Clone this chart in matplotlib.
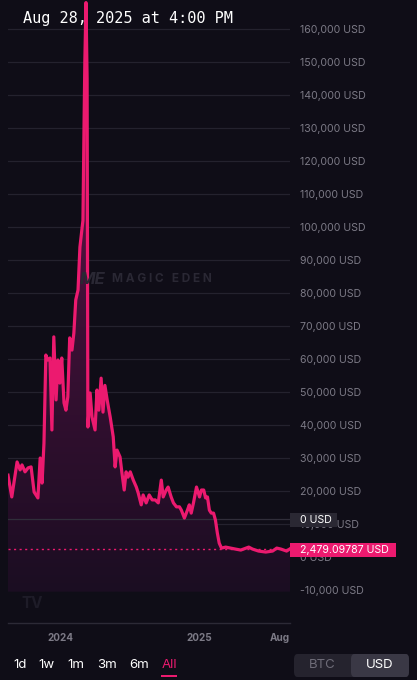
import numpy as np
import matplotlib
matplotlib.use("Agg")
import matplotlib.pyplot as plt
import matplotlib.dates as mdates
from matplotlib.patches import FancyBboxPatch, Rectangle
import pandas as pd

# ---------------- data ----------------
dates = [
    "2023-08-14", "2023-08-24", "2023-09-07", "2023-09-15", "2023-09-20", "2023-09-28",
    "2023-10-06", "2023-10-14", "2023-10-22", "2023-11-01", "2023-11-07", "2023-11-12",
    "2023-11-17", "2023-11-22", "2023-11-27", "2023-12-03", "2023-12-08", "2023-12-13",
    "2023-12-19", "2023-12-24", "2023-12-29", "2024-01-03", "2024-01-09", "2024-01-14",
    "2024-01-19", "2024-01-24", "2024-01-30", "2024-02-04", "2024-02-09", "2024-02-15",
    "2024-02-20", "2024-02-25", "2024-02-28", "2024-03-02", "2024-03-04", "2024-03-07",
    "2024-03-10", "2024-03-12", "2024-03-18", "2024-03-23", "2024-03-31", "2024-04-05",
    "2024-04-10", "2024-04-16", "2024-04-21", "2024-04-26", "2024-05-02", "2024-05-10",
    "2024-05-18", "2024-05-23", "2024-05-28", "2024-06-05", "2024-06-10", "2024-06-16",
    "2024-06-21", "2024-06-26", "2024-07-02", "2024-07-10", "2024-07-18", "2024-07-23",
    "2024-07-31", "2024-08-05", "2024-08-13", "2024-08-21", "2024-08-29", "2024-09-06",
    "2024-09-14", "2024-09-22", "2024-09-27", "2024-10-05", "2024-10-10", "2024-10-18",
    "2024-10-24", "2024-11-01", "2024-11-09", "2024-11-14", "2024-11-22", "2024-11-30",
    "2024-12-05", "2024-12-10", "2024-12-16", "2024-12-24", "2025-01-01", "2025-01-06",
    "2025-01-12", "2025-01-17", "2025-01-22", "2025-01-27", "2025-02-01", "2025-02-07",
    "2025-02-12", "2025-02-17", "2025-02-22", "2025-02-28", "2025-03-11", "2025-03-24",
    "2025-04-06", "2025-04-20", "2025-05-11", "2025-05-21", "2025-06-06", "2025-06-25",
    "2025-07-13", "2025-07-24", "2025-08-04", "2025-08-19", "2025-08-28",
]
prices = [
    24800, 18200, 28800, 26400, 27900, 25800,
    27000, 27300, 19700, 17900, 30000, 22400,
    34500, 61200, 59700, 60300, 38500, 66700,
    47600, 59700, 52700, 60300, 46700, 44500,
    48500, 66400, 62700, 67900, 77900, 80900,
    93900, 99000, 102000, 132000, 150000, 168000,
    145000, 39400, 49700, 42400, 38500, 50600,
    44500, 54200, 43900, 52000, 47600, 42400,
    36400, 27300, 32400, 30300, 25500, 20300,
    25800, 24200, 25800, 23300, 21200, 19400,
    15800, 18800, 16400, 18800, 17300, 17300,
    16400, 23300, 18200, 20300, 21200, 18200,
    16400, 15200, 15200, 14200, 11800, 14200,
    15800, 13300, 16400, 21200, 18200, 20300,
    20300, 17900, 18200, 14200, 13300, 13300,
    11200, 7300, 4200, 2700, 3000, 2700,
    2400, 2100, 3000, 2400, 1800, 1500,
    1800, 2700, 2400, 1800, 2479.09787,
]
last_price = 2479.09787
ytick_values = [160000, 150000, 140000, 130000, 120000, 110000, 100000, 90000,
                80000, 70000, 60000, 50000, 40000, 30000, 20000, 10000, 0, -10000]
xtick_dates = ["2024-01-01", "2025-01-01", "2025-08-01"]
xtick_labels = ["2024", "2025", "Aug"]
ranges = ["1d", "1w", "1m", "3m", "6m", "All"]
title = "Aug 28, 2025 at 4:00 PM"
crosshair_value = 11500

# ---------------- style ----------------
BG = "#0f0d17"
GRID = "#24222e"
PINK = "#ec1a6f"
LABEL = "#7c7a86"

x = mdates.date2num(pd.to_datetime(dates))
y = np.array(prices, dtype=float)

fig = plt.figure(figsize=(4.17, 6.80), dpi=100, facecolor=BG)
W, H = 417, 680
ax = fig.add_axes([8 / W, 1 - 623 / H, 282 / W, 623 / H], facecolor=BG)

x0 = mdates.date2num(pd.Timestamp("2023-08-14"))
x1 = mdates.date2num(pd.Timestamp("2025-08-28"))
ymin, ymax = -20000, 168788
ax.set_xlim(x0, x1)
ax.set_ylim(ymin, ymax)

# grid
for v in ytick_values:
    ax.axhline(v, color=GRID, lw=0.9, zorder=0)

# gradient fill under the line
fill_base = -10500
poly = ax.fill_between(x, y, fill_base, color="none", lw=0, zorder=1)
grad = np.linspace(0, 1, 256).reshape(-1, 1)
cmap = matplotlib.colors.LinearSegmentedColormap.from_list(
    "g", [(0, "#1b0d22"), (0.45, "#3c1035"), (1, "#74134e")])
im = ax.imshow(grad, extent=[x0, x1, fill_base, 168000], origin="lower",
               aspect="auto", cmap=cmap, zorder=1)
im.set_clip_path(poly.get_paths()[0], transform=ax.transData)

ax.plot(x, y, color=PINK, lw=2.3, zorder=3, solid_joinstyle="round")

# last price dotted line
ax.axhline(last_price, color=PINK, lw=1.0, ls=(0, (1.5, 2.5)), zorder=2)
# crosshair line
ax.axhline(crosshair_value, color="#302e3a", lw=0.9, zorder=2)

# axes styling
for s in ["top", "left", "right"]:
    ax.spines[s].set_visible(False)
ax.spines["bottom"].set_color("#2c2a36")
ax.spines["bottom"].set_linewidth(1.0)

ax.yaxis.tick_right()
ax.set_yticks(ytick_values)
ax.set_yticklabels([f"{v:,} USD" for v in ytick_values], color=LABEL,
                   fontsize=7.6, family="Inter")
ax.tick_params(axis="y", length=0, pad=7.5)

ax.set_xticks(mdates.date2num(pd.to_datetime(xtick_dates)))
ax.set_xticklabels(xtick_labels, color=LABEL, fontsize=7.2,
                   family="Inter", fontweight="bold")
ax.tick_params(axis="x", length=0, pad=7)

# title
fig.text(23 / W, 1 - 18 / H, title, color="white", fontsize=11,
         family="DejaVu Sans Mono", va="center", ha="left")

# watermark
fig.text(80 / W, 1 - 279 / H, "ME", color="#2a2834", fontsize=12,
         fontweight="bold", style="italic", va="center", ha="left", family="Inter")
fig.text(112 / W, 1 - 279 / H, "M A G I C   E D E N", color="#2a2834",
         fontsize=8.5, fontweight="bold", va="center", ha="left", family="Inter")
fig.text(32 / W, 1 - 604 / H, "TV", color="#1e1c28", fontsize=11,
         fontweight="bold", va="center", ha="center", family="Inter")

def pix_to_fig(px, py):
    return px / W, 1 - py / H

# "0 USD" crosshair label
bx, by = pix_to_fig(290, 527)
fig.patches.append(Rectangle((bx, by), 47 / W, 14 / H, transform=fig.transFigure,
                             facecolor="#2a2833", edgecolor="none", zorder=5))
fig.text(300 / W, 1 - 520 / H, "0 USD", color="white", fontsize=7.6,
         family="Inter", va="center", ha="left", zorder=6)

# last price label
bx, by = pix_to_fig(290, 557)
fig.patches.append(Rectangle((bx, by), 106 / W, 14 / H, transform=fig.transFigure,
                             facecolor=PINK, edgecolor="none", zorder=5))
fig.text(300 / W, 1 - 550 / H, f"{last_price:,.5f} USD", color="white",
         fontsize=7.6, family="Inter", va="center", ha="left", zorder=6)

# range buttons
rx = [20, 46, 76, 107, 139, 169]
for lab, px in zip(ranges, rx):
    col = PINK if lab == "All" else "white"
    fig.text(px / W, 1 - 665 / H, lab, color=col, fontsize=9.5,
             family="Inter", va="center", ha="center")
fig.patches.append(Rectangle((161 / W, 1 - 677 / H), 16 / W, 2 / H,
                             transform=fig.transFigure, facecolor=PINK,
                             edgecolor="none"))

# BTC / USD toggle
fig.patches.append(FancyBboxPatch((294 / W, 1 - 677 / H), 115 / W, 23 / H,
                                  boxstyle="round,pad=0,rounding_size=0.008",
                                  transform=fig.transFigure, facecolor="#25232e",
                                  edgecolor="none"))
fig.patches.append(FancyBboxPatch((351 / W, 1 - 677 / H), 58 / W, 23 / H,
                                  boxstyle="round,pad=0,rounding_size=0.008",
                                  transform=fig.transFigure, facecolor="#3a3845",
                                  edgecolor="none"))
fig.text(322 / W, 1 - 665 / H, "BTC", color="#6e6c78", fontsize=9.5,
         family="Inter", va="center", ha="center")
fig.text(380 / W, 1 - 665 / H, "USD", color="white", fontsize=9.5,
         family="Inter", va="center", ha="center")

fig.savefig("out.png", dpi=100, facecolor=BG)
